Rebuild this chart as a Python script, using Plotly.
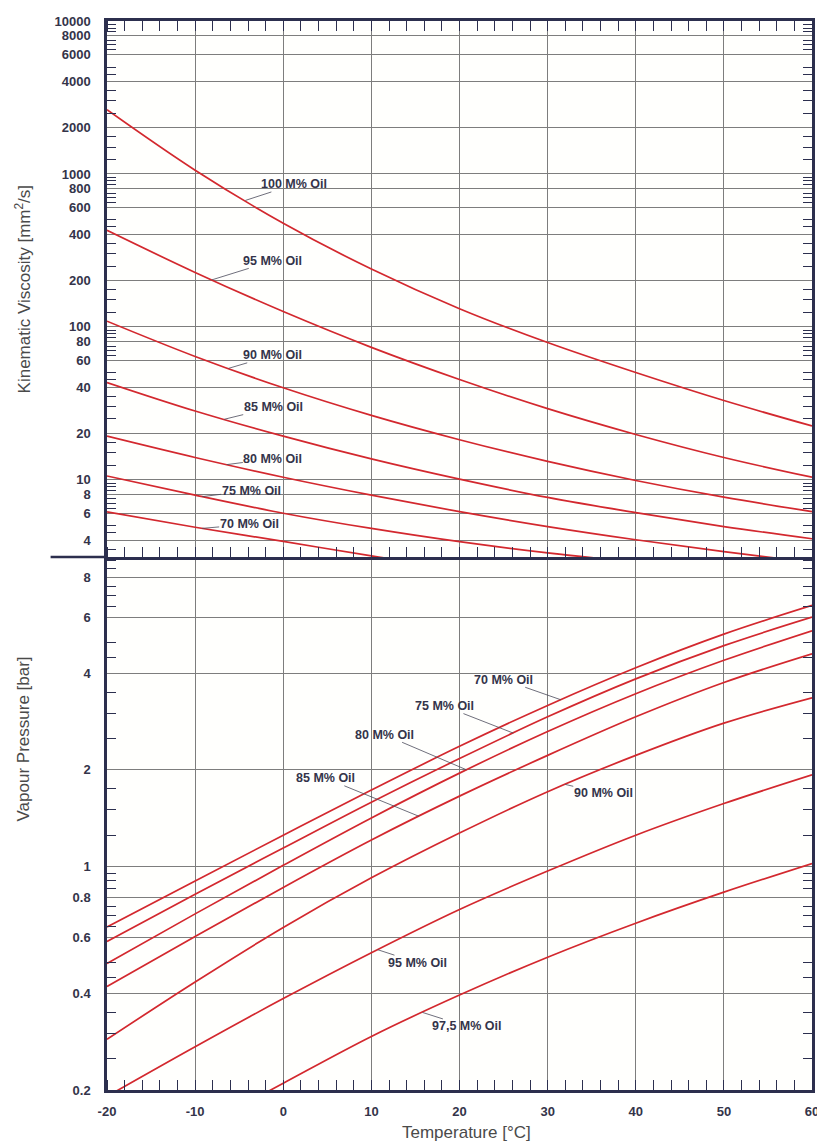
import numpy as np
import plotly.graph_objects as go

# ---------------- data ----------------
temperature = [-20, -10, 0, 10, 20, 30, 40, 50, 60]
temp_ticks = [-20, -10, 0, 10, 20, 30, 40, 50, 60]
temp_ticktext = ["-20", "-10", "0", "10", "20", "30", "40", "50", "60"]

# Kinematic viscosity [mm2/s] (top panel)
visc_100 = [2630, 1058, 476, 239, 131.5, 79.0, 50.3, 33.0, 22.5]
visc_95 = [428, 227, 126, 73.5, 45.3, 29.2, 19.8, 14.0, 10.4]
visc_90 = [109, 64.1, 40.0, 26.4, 18.3, 13.2, 9.9, 7.7, 6.2]
visc_85 = [43.3, 28.2, 19.3, 13.7, 10.1, 7.67, 6.1, 4.95, 4.12]
visc_80 = [19.3, 14.0, 10.4, 7.94, 6.19, 4.95, 4.06, 3.39, 2.88]
visc_75 = [10.6, 7.94, 6.05, 4.81, 3.94, 3.33, 2.90, None, None]
visc_70 = [6.17, 4.90, 3.96, 3.18, 2.62, None, None, None, None]

# Vapour pressure [bar] (bottom panel)
vp_70 = [0.646, 0.90, 1.25, 1.73, 2.37, 3.18, 4.17, 5.31, 6.53]
vp_75 = [0.582, 0.818, 1.14, 1.585, 2.17, 2.93, 3.85, 4.89, 6.0]
vp_80 = [0.497, 0.71, 1.007, 1.416, 1.954, 2.636, 3.46, 4.40, 5.44]
vp_85 = [0.421, 0.603, 0.859, 1.208, 1.656, 2.22, 2.93, 3.75, 4.61]
vp_90 = [0.288, 0.435, 0.644, 0.92, 1.27, 1.71, 2.22, 2.80, 3.36]
vp_95 = [0.191, 0.273, 0.386, 0.537, 0.733, 0.966, 1.25, 1.57, 1.93]
vp_975 = [None, 0.149, 0.210, 0.294, 0.396, 0.520, 0.664, 0.83, 1.02]

visc_series = [("100 M% Oil", visc_100), ("95 M% Oil", visc_95), ("90 M% Oil", visc_90),
               ("85 M% Oil", visc_85), ("80 M% Oil", visc_80), ("75 M% Oil", visc_75),
               ("70 M% Oil", visc_70)]
vp_series = [("70 M% Oil", vp_70), ("75 M% Oil", vp_75), ("80 M% Oil", vp_80),
             ("85 M% Oil", vp_85), ("90 M% Oil", vp_90), ("95 M% Oil", vp_95),
             ("97,5 M% Oil", vp_975)]

# label anchor temperature on curve and text offset (pixels)
visc_label_pos = {"100 M% Oil": (-4.3, 49, -16), "95 M% Oil": (-8.1, 61, -19),
                  "90 M% Oil": (-6.2, 44, -13), "85 M% Oil": (-6.7, 49, -12),
                  "80 M% Oil": (-6.4, 46, -6), "75 M% Oil": (-9.2, 49, -6),
                  "70 M% Oil": (-9.2, 47, -4)}
vp_label_pos = {"70 M% Oil": (31.5, -57, -20), "75 M% Oil": (26.1, -69, -27),
                "80 M% Oil": (20.8, -82, -35), "85 M% Oil": (15.4, -93, -38),
                "90 M% Oil": (32.0, 38, 9), "95 M% Oil": (10.7, 40, 13),
                "97,5 M% Oil": (15.8, 44, 14)}

visc_ticks = [4, 6, 8, 10, 20, 40, 60, 80, 100, 200, 400, 600, 800, 1000, 2000, 4000, 6000, 8000, 10000]
vp_ticks = [0.2, 0.4, 0.6, 0.8, 1, 2, 4, 6, 8]
vp_ticktext = ["0.2", "0.4", "0.6", "0.8", "1", "2", "4", "6", "8"]
minor_mantissa = [1.25, 1.5, 1.75, 2.5, 3, 3.5, 4.5, 5, 6.5, 7, 7.5, 8.5, 9, 9.5]

# ---------------- styling ----------------
RED = "#d3282e"
AX = "#2c2f4e"
GRID = "#7d7d7d"
TXT = "#34344a"
FONT = "Liberation Sans, Arial, sans-serif"
SPLIT = 0.4986


def minor_vals(lo, hi):
    out = []
    for e in range(-2, 5):
        for m in minor_mantissa:
            v = m * 10 ** e
            if lo < v < hi:
                out.append(v)
    return out


def on_curve(t, vals):
    xs = [x for x, v in zip(temperature, vals) if v is not None]
    ls = [np.log10(v) for v in vals if v is not None]
    return float(np.interp(t, xs, ls))


fig = go.Figure()
for name, vals in visc_series:
    fig.add_trace(go.Scatter(x=temperature, y=vals, mode="lines", name=name,
                             line=dict(color=RED, width=1.7, shape="spline", smoothing=1.0),
                             xaxis="x2", yaxis="y2", showlegend=False))
for name, vals in vp_series:
    fig.add_trace(go.Scatter(x=temperature, y=vals, mode="lines", name=name,
                             line=dict(color=RED, width=1.7, shape="spline", smoothing=1.0),
                             xaxis="x", yaxis="y", showlegend=False))

annotations = []
for name, vals in visc_series:
    t, ax, ay = visc_label_pos[name]
    annotations.append(dict(x=t, y=on_curve(t, vals), xref="x2", yref="y2", text="<b>%s</b>" % name,
                            showarrow=True, arrowhead=0, arrowwidth=0.8, arrowcolor="#4a4a5a",
                            ax=ax, ay=ay, standoff=0, borderpad=0,
                            font=dict(family=FONT, size=12.5, color=TXT)))
for name, vals in vp_series:
    t, ax, ay = vp_label_pos[name]
    annotations.append(dict(x=t, y=on_curve(t, vals), xref="x", yref="y", text="<b>%s</b>" % name,
                            showarrow=True, arrowhead=0, arrowwidth=0.8, arrowcolor="#4a4a5a",
                            ax=ax, ay=ay, standoff=0, borderpad=0,
                            font=dict(family=FONT, size=12.5, color=TXT)))

title_font = dict(family=FONT, size=17, color="#4a4a4a")
annotations += [
    dict(text="Kinematic Viscosity [mm<sup>2</sup>/s]", xref="paper", yref="paper", x=-0.119, y=0.749,
         textangle=-90, showarrow=False, font=title_font, xanchor="center", yanchor="middle"),
    dict(text="Vapour Pressure [bar]", xref="paper", yref="paper", x=-0.119, y=0.328,
         textangle=-90, showarrow=False, font=title_font, xanchor="center", yanchor="middle"),
    dict(text="Temperature [°C]", xref="paper", yref="paper", x=0.51, y=-0.04,
         showarrow=False, font=title_font, xanchor="center", yanchor="middle"),
]

tickfont = dict(family=FONT, size=13, color=TXT, weight="bold")
xcommon = dict(range=[-20, 60], tickmode="array", tickvals=temp_ticks, ticktext=temp_ticktext,
               showgrid=True, gridcolor=GRID, gridwidth=1,
               ticks="", showline=True, linecolor=AX, linewidth=2.5, zeroline=False,
               minor=dict(dtick=2, tick0=0, ticks="inside", ticklen=10, tickcolor=AX, tickwidth=1.2,
                          showgrid=False))

# the page body has an 8px margin, so the figure is sized/margined to compensate
fig.update_layout(
    width=817, height=1136,
    margin=dict(l=99, r=6, t=7, b=54),
    paper_bgcolor="white", plot_bgcolor="#fffffd",
    showlegend=False,
    xaxis=dict(**xcommon, anchor="y", mirror=False, showticklabels=True, tickfont=tickfont,
               ticklabelstandoff=8),
    xaxis2=dict(**xcommon, anchor="y2", matches="x", mirror="ticks", showticklabels=False),
    yaxis=dict(type="log", domain=[0, SPLIT], range=[np.log10(0.2), np.log10(9.25)],
               tickmode="array", tickvals=vp_ticks, ticktext=vp_ticktext, ticks="",
               showgrid=True, gridcolor=GRID, gridwidth=1, showline=True, linecolor=AX, linewidth=2.5,
               mirror="ticks", tickfont=tickfont, ticklabelstandoff=11, zeroline=False,
               minor=dict(tickmode="array", tickvals=minor_vals(0.2, 9.25), ticks="inside", ticklen=9,
                          tickcolor=AX, tickwidth=1, showgrid=False)),
    yaxis2=dict(type="log", domain=[SPLIT, 1], range=[np.log10(3.13), 4], anchor="x2",
                tickmode="array", tickvals=visc_ticks, ticktext=[str(v) for v in visc_ticks], ticks="",
                showgrid=True, gridcolor=GRID, gridwidth=1, showline=True, linecolor=AX, linewidth=2.5,
                mirror="ticks", tickfont=tickfont, ticklabelstandoff=11, zeroline=False,
                minor=dict(tickmode="array", tickvals=minor_vals(3.13, 10000), ticks="inside", ticklen=9,
                           tickcolor=AX, tickwidth=1, showgrid=False)),
    annotations=annotations,
    shapes=[dict(type="line", xref="paper", yref="paper", x0=-0.08, x1=0, y0=SPLIT, y1=SPLIT,
                 line=dict(color=AX, width=2.5))],
)

fig.write_html("out.html")
